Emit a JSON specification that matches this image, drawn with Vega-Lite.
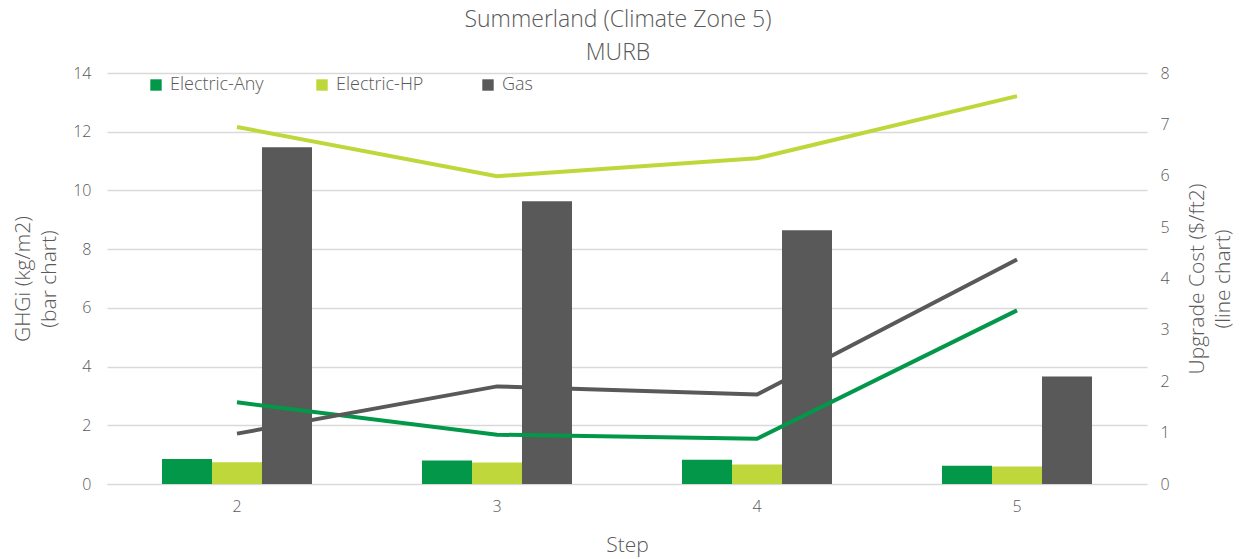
{
  "$schema": "https://vega.github.io/schema/vega-lite/v6.json",
  "width": 1040,
  "height": 411,
  "autosize": {"type": "none"},
  "padding": {"left": 107, "top": 73, "right": 99, "bottom": 75},
  "background": "white",
  "title": {
    "text": ["Summerland (Climate Zone 5)", "MURB"],
    "font": "Open Sans",
    "fontWeight": 300,
    "fontSize": 23,
    "color": "#595959",
    "lineHeight": 33,
    "anchor": "middle",
    "dx": -9,
    "offset": 0
  },
  "config": {
    "view": {"stroke": null},
    "font": "Open Sans",
    "axis": {
      "labelFont": "Open Sans",
      "labelFontWeight": 300,
      "labelFontSize": 16,
      "labelColor": "#595959",
      "titleFont": "Open Sans",
      "titleFontWeight": 300,
      "titleFontSize": 21,
      "titleColor": "#595959",
      "gridColor": "#d9d9d9",
      "gridWidth": 1.3,
      "domainColor": "#d9d9d9",
      "ticks": false
    },
    "legend": {
      "labelFont": "Open Sans",
      "labelFontWeight": 300,
      "labelFontSize": 18,
      "labelColor": "#595959"
    }
  },
  "data": {
    "values": [
      {"step": "2", "type": "Electric-Any", "ghgi": 0.85, "cost": 1.59},
      {"step": "2", "type": "Electric-HP", "ghgi": 0.74, "cost": 6.95},
      {"step": "2", "type": "Gas", "ghgi": 11.47, "cost": 0.98},
      {"step": "3", "type": "Electric-Any", "ghgi": 0.80, "cost": 0.96},
      {"step": "3", "type": "Electric-HP", "ghgi": 0.73, "cost": 5.99},
      {"step": "3", "type": "Gas", "ghgi": 9.63, "cost": 1.90},
      {"step": "4", "type": "Electric-Any", "ghgi": 0.83, "cost": 0.88},
      {"step": "4", "type": "Electric-HP", "ghgi": 0.66, "cost": 6.34},
      {"step": "4", "type": "Gas", "ghgi": 8.64, "cost": 1.74},
      {"step": "5", "type": "Electric-Any", "ghgi": 0.62, "cost": 3.38},
      {"step": "5", "type": "Electric-HP", "ghgi": 0.60, "cost": 7.55},
      {"step": "5", "type": "Gas", "ghgi": 3.66, "cost": 4.37}
    ]
  },
  "encoding": {
    "x": {
      "field": "step",
      "type": "nominal",
      "scale": {"paddingInner": 0.4231, "paddingOuter": 0.2115},
      "axis": {
        "title": "Step",
        "labelAngle": 0,
        "labelPadding": 14,
        "titlePadding": 20,
        "domain": true,
        "grid": false
      }
    }
  },
  "layer": [
    {
      "mark": {"type": "bar"},
      "encoding": {
        "xOffset": {"field": "type", "type": "nominal", "scale": {"paddingInner": 0, "paddingOuter": 0}},
        "y": {
          "field": "ghgi",
          "type": "quantitative",
          "scale": {"domain": [0, 14]},
          "axis": {
            "title": ["GHGi (kg/m2)", "(bar chart)"],
            "titleLineHeight": 26,
            "values": [0, 2, 4, 6, 8, 10, 12, 14],
            "domain": false,
            "labelPadding": 16,
            "titlePadding": 13
          }
        },
        "color": {
          "field": "type",
          "type": "nominal",
          "scale": {"domain": ["Electric-Any", "Electric-HP", "Gas"], "range": ["#03974A", "#BFD73B", "#595959"]},
          "legend": {
            "title": null,
            "orient": "none",
            "direction": "horizontal",
            "legendX": 40,
            "legendY": 3,
            "symbolType": "square",
            "symbolSize": 130,
            "symbolOpacity": 1,
            "symbolStrokeWidth": 0,
            "labelOffset": 5,
            "columnPadding": 49,
            "gridAlign": "all"
          }
        }
      }
    },
    {
      "mark": {"type": "line", "strokeWidth": 4},
      "encoding": {
        "y": {
          "field": "cost",
          "type": "quantitative",
          "scale": {"domain": [0, 8]},
          "axis": {
            "orient": "right",
            "title": ["Upgrade Cost ($/ft2)", "(line chart)"],
            "titleAngle": 270,
            "titleLineHeight": 26,
            "values": [0, 1, 2, 3, 4, 5, 6, 7, 8],
            "grid": false,
            "domain": false,
            "labelPadding": 13,
            "titlePadding": 12
          }
        },
        "color": {"field": "type", "type": "nominal", "legend": null}
      }
    }
  ],
  "resolve": {"scale": {"y": "independent"}}
}
